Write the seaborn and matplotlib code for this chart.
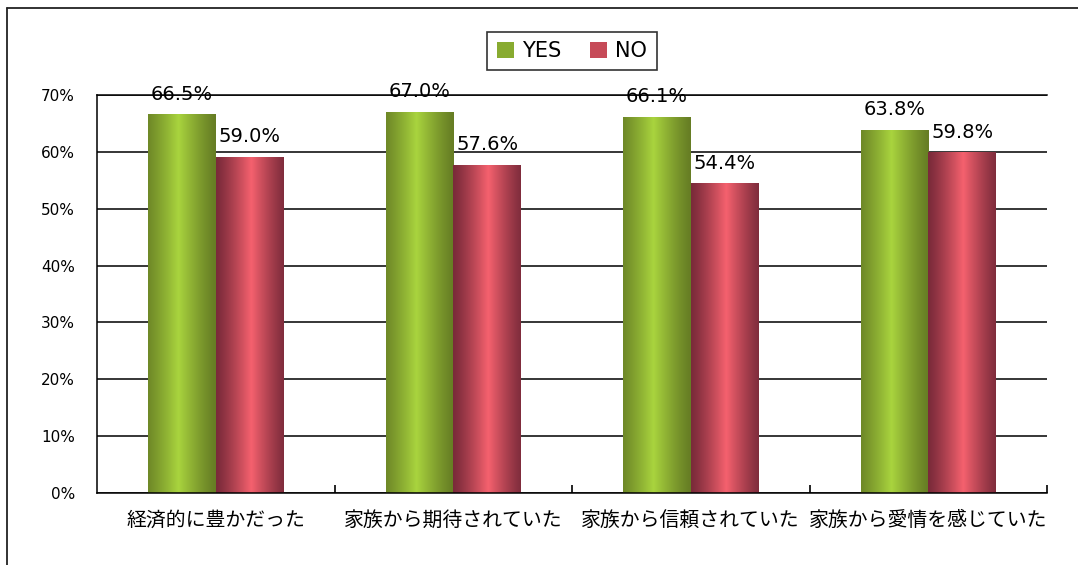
import numpy as np
import pandas as pd
import matplotlib
matplotlib.use("Agg")
import matplotlib.pyplot as plt
from matplotlib.lines import Line2D
from matplotlib.patches import Patch
from matplotlib.colors import LinearSegmentedColormap
import seaborn as sns

categories = ["経済的に豊かだった", "家族から期待されていた", "家族から信頼されていた", "家族から愛情を感じていた"]
series_names = ["YES", "NO"]
yes_values = [66.5, 67.0, 66.1, 63.8]
no_values = [59.0, 57.6, 54.4, 59.8]
y_ticks = [0, 10, 20, 30, 40, 50, 60, 70]

sns.set_theme(style="white")
plt.rcParams['font.family'] = ['Noto Sans CJK JP', 'DejaVu Sans']
plt.rcParams['text.color'] = 'black'
plt.rcParams['xtick.color'] = 'black'
plt.rcParams['ytick.color'] = 'black'

df = pd.DataFrame({
    "category": categories * 2,
    "series": [series_names[0]] * 4 + [series_names[1]] * 4,
    "value": yes_values + no_values,
})

fig = plt.figure(figsize=(10.78, 5.65), dpi=100)
ax = fig.add_axes([97/1078, 72/565, (1047-97)/1078, (493-95)/565])

palette = {"YES": "#88ab30", "NO": "#c64a58"}
sns.barplot(data=df, x="category", y="value", hue="series", order=categories,
            hue_order=series_names, palette=palette, width=0.57, gap=0,
            saturation=1, ax=ax, legend=True, linewidth=0)

ax.set_xlim(-0.5, 3.5)
ax.set_ylim(0, 70)
ax.set_yticks(y_ticks)
ax.set_yticklabels([f"{v}%" for v in y_ticks], fontsize=11, family=['DejaVu Sans'])
ax.set_xlabel("")
ax.set_ylabel("")
ax.tick_params(axis='y', length=0, pad=16)
ax.tick_params(axis='x', which='major', length=0, pad=12, labelsize=14.3, labelcolor='black')
ax.set_xticks([0.5, 1.5, 2.5, 3.5], minor=True)
ax.tick_params(axis='x', which='minor', bottom=True, direction='in', length=6, width=1.2, color='black')

ax.yaxis.grid(True, color='black', linewidth=1.1)
ax.set_axisbelow(True)
for s in ['left', 'bottom', 'top']:
    ax.spines[s].set_visible(True)
    ax.spines[s].set_color('black')
    ax.spines[s].set_linewidth(1.1)
ax.spines['right'].set_visible(False)

# gradient fills
grad_specs = {
    "YES": ("#667d24", "#a9d43e", 0.45),
    "NO": ("#7a2a3a", "#f5616e", 0.52),
}
for container, name in zip(ax.containers, series_names):
    dark, light, peak = grad_specs[name]
    cmap = LinearSegmentedColormap.from_list(name, [dark, light])
    xs = np.linspace(0, 1, 200)
    prof = np.clip(1 - np.abs(xs - peak) / max(peak, 1 - peak), 0, 1) ** 1.2
    img = prof[np.newaxis, :]
    for patch in container:
        x0 = patch.get_x()
        w = patch.get_width()
        h = patch.get_height()
        patch.set_alpha(0)
        ax.imshow(img, cmap=cmap, vmin=0, vmax=1, aspect='auto',
                  extent=(x0, x0 + w, 0, h), zorder=2, interpolation='bilinear')
    ax.bar_label(container, fmt='%.1f%%', padding=8, fontsize=14,
                 family=['DejaVu Sans'], color='black')

ax.set_xlim(-0.5, 3.5)
ax.set_ylim(0, 70)

# legend
leg = ax.get_legend()
if leg is not None:
    leg.remove()
handles = [Patch(facecolor=palette[n], edgecolor='none') for n in series_names]
lg = fig.legend(handles, series_names, loc='center', bbox_to_anchor=(572/1078, 1 - 51/565),
                ncol=2, frameon=True, fancybox=False, edgecolor='black',
                handlelength=0.8, handleheight=0.8, handletextpad=0.4, columnspacing=1.4,
                borderpad=0.45, prop={'family': ['DejaVu Sans'], 'size': 15})
lg.get_frame().set_linewidth(1.2)
for t in lg.get_texts():
    t.set_color('black')

# outer frame (left and top edges)
fig.add_artist(Line2D([7/1078, 7/1078], [0, 1 - 8/565], transform=fig.transFigure,
                      color='#222222', linewidth=1.3))
fig.add_artist(Line2D([7/1078, 1.0], [1 - 8/565, 1 - 8/565], transform=fig.transFigure,
                      color='#222222', linewidth=1.3))

fig.savefig("out.png", dpi=100, facecolor='white')
